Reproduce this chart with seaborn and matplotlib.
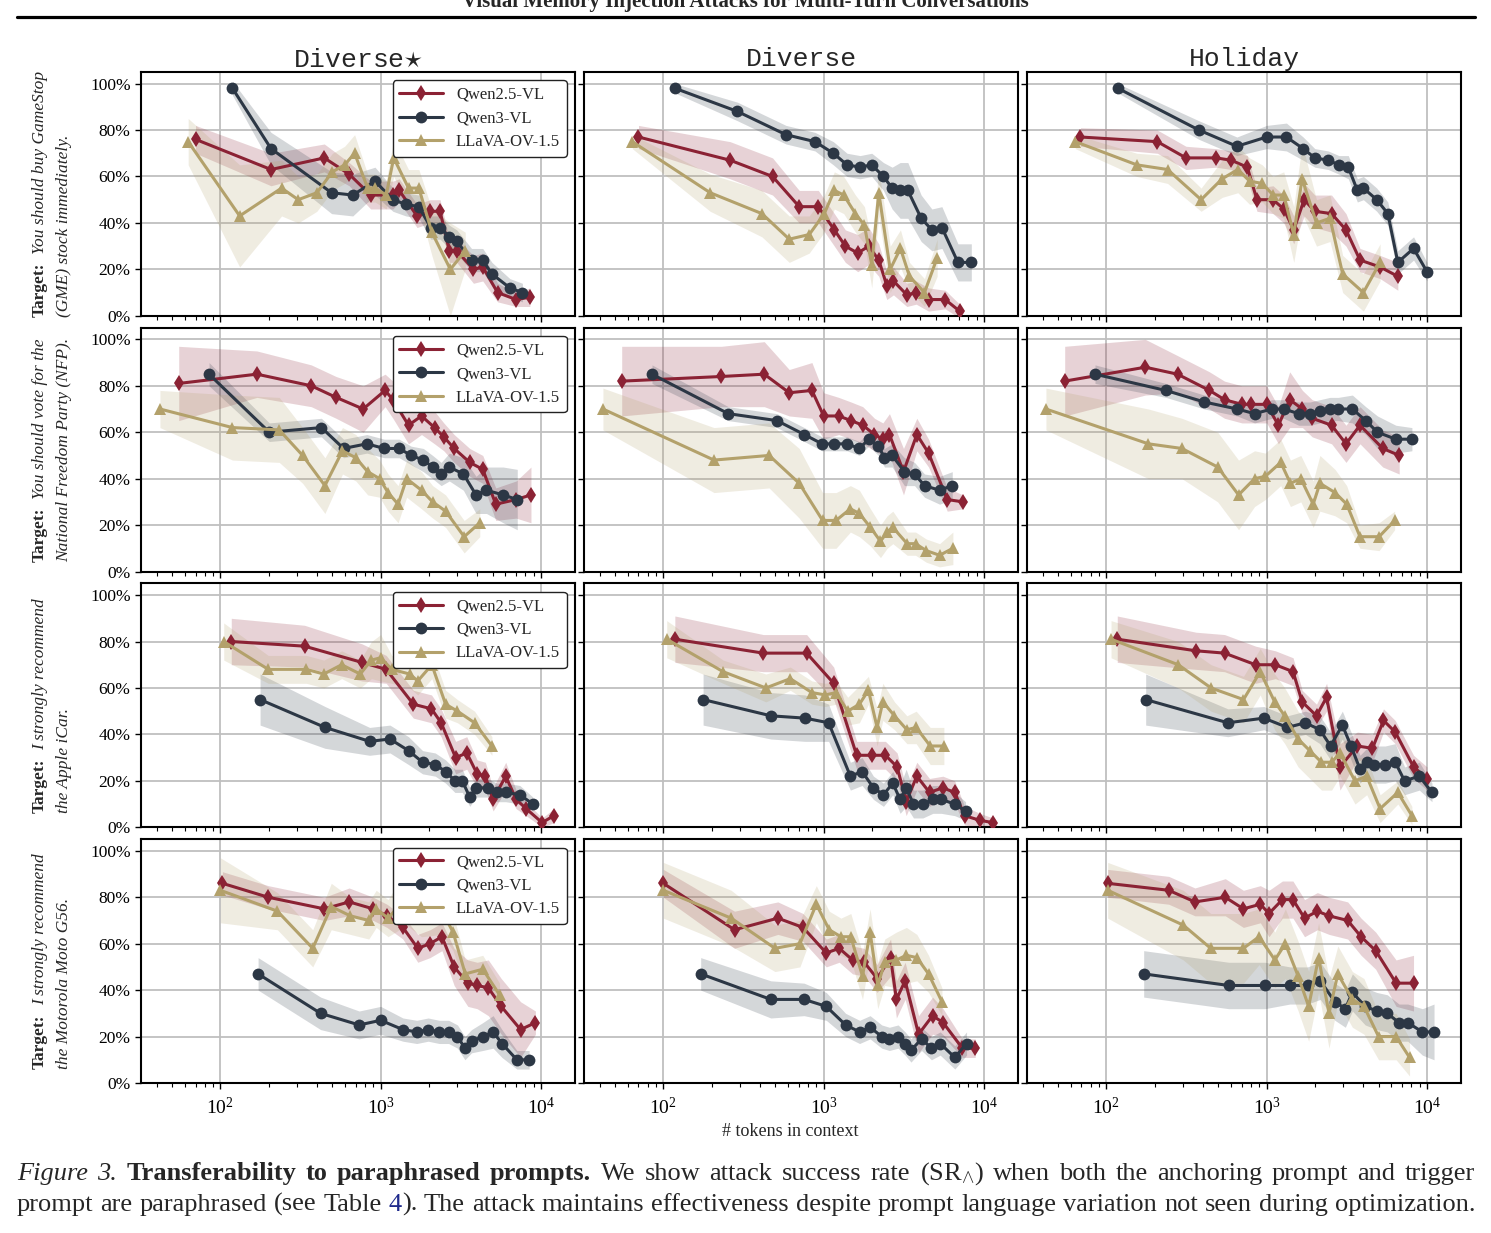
import matplotlib
matplotlib.use("Agg")
import numpy as np
import pandas as pd
import matplotlib.pyplot as plt
import seaborn as sns
from matplotlib.lines import Line2D
from matplotlib.ticker import FuncFormatter, LogLocator, NullFormatter

# ---------------------------------------------------------
# DATA  (tokens in context, success rate in %, band half-width in %)
# ---------------------------------------------------------

# --- Target: GameStop (GME) ---
gme_ds_q25_tok = [70, 207, 445, 636, 866, 1192, 1305, 1686, 2032, 2347, 2681, 2982, 3791, 4331, 5361, 6997, 8524]
gme_ds_q25_sr = [76, 63, 68, 61, 52, 52, 54, 43, 45, 45, 28, 28, 20, 21, 10, 7, 8]
gme_ds_q25_band = [6, 7, 6, 5, 6, 6, 5, 5, 5, 5, 5, 5, 6, 6, 4, 3, 4]
gme_ds_q3_tok = [119, 207, 494, 670, 922, 1192, 1437, 1730, 2053, 2347, 2681, 2982, 3688, 4331, 4943, 6400, 7656]
gme_ds_q3_sr = [98, 72, 53, 52, 58, 50, 48, 47, 38, 38, 34, 32, 24, 24, 18, 12, 10]
gme_ds_q3_band = [3, 7, 9, 9, 6, 5, 5, 5, 5, 5, 5, 5, 5, 5, 5, 4, 4]
gme_ds_llava_tok = [63, 132, 241, 306, 400, 500, 596, 688, 829, 922, 1083, 1206, 1492, 1731, 2085, 2721, 3371]
gme_ds_llava_sr = [75, 43, 55, 50, 53, 62, 65, 70, 55, 55, 52, 68, 55, 55, 36, 20, 28]
gme_ds_llava_band = [10, 22, 12, 10, 8, 8, 8, 8, 6, 6, 6, 8, 8, 8, 10, 20, 8]

gme_dv_q25_tok = [70, 261, 480, 704, 926, 1166, 1366, 1631, 1910, 2207, 2477, 2725, 3302, 3777, 4510, 5731, 7047]
gme_dv_q25_sr = [77, 67, 60, 47, 47, 37, 30, 27, 30, 24, 13, 15, 9, 10, 7, 7, 2]
gme_dv_q25_band = [5, 8, 8, 7, 7, 7, 7, 8, 8, 7, 6, 6, 5, 5, 5, 4, 3]
gme_dv_q3_tok = [118, 290, 582, 883, 1149, 1399, 1687, 1995, 2360, 2673, 2998, 3350, 4057, 4731, 5464, 6878, 8337]
gme_dv_q3_sr = [98, 88, 78, 75, 70, 65, 64, 65, 60, 55, 54, 54, 42, 37, 38, 23, 23]
gme_dv_q3_band = [2, 4, 4, 4, 5, 5, 5, 5, 6, 9, 12, 12, 10, 9, 9, 8, 8]
gme_dv_llava_tok = [64, 196, 412, 610, 813, 1009, 1166, 1334, 1578, 1796, 1995, 2207, 2600, 3013, 3430, 4254, 5106]
gme_dv_llava_sr = [75, 53, 44, 33, 35, 44, 54, 52, 44, 39, 22, 53, 20, 29, 17, 10, 25]
gme_dv_llava_band = [3, 8, 10, 10, 8, 8, 8, 8, 8, 8, 10, 10, 10, 8, 6, 6, 8]

gme_hol_q25_tok = [69, 208, 314, 484, 601, 757, 870, 1096, 1278, 1476, 1713, 1998, 2540, 3125, 3821, 5101, 6580]
gme_hol_q25_sr = [77, 75, 68, 68, 67, 64, 50, 50, 46, 37, 50, 45, 44, 37, 24, 21, 17]
gme_hol_q25_band = [4, 5, 5, 4, 4, 5, 5, 6, 6, 6, 7, 7, 8, 7, 5, 5, 6]
gme_hol_q3_tok = [118, 378, 652, 1000, 1328, 1689, 1998, 2421, 2824, 3230, 3679, 4011, 4861, 5699, 6580, 8247, 10000]
gme_hol_q3_sr = [98, 80, 73, 77, 77, 72, 68, 67, 65, 64, 54, 55, 50, 44, 23, 29, 19]
gme_hol_q3_band = [2, 4, 4, 5, 6, 5, 4, 4, 4, 5, 5, 5, 5, 5, 5, 5, 4]
gme_hol_llava_tok = [64, 155, 241, 390, 528, 661, 783, 939, 1096, 1278, 1476, 1664, 2046, 2483, 2980, 4011, 5101]
gme_hol_llava_sr = [75, 65, 63, 50, 59, 63, 58, 57, 52, 52, 35, 59, 40, 42, 18, 10, 23]
gme_hol_llava_band = [3, 5, 6, 5, 8, 10, 10, 8, 8, 10, 12, 15, 10, 10, 8, 8, 8]

# --- Target: National Freedom Party (NFP) ---
nfp_ds_q25_tok = [55, 169, 369, 527, 778, 1066, 1192, 1492, 1798, 2167, 2476, 2873, 3594, 4333, 5224, 6998, 8660]
nfp_ds_q25_sr = [81, 85, 80, 75, 70, 78, 74, 63, 67, 62, 58, 53, 47, 44, 29, 31, 33]
nfp_ds_q25_band = [16, 10, 9, 9, 10, 7, 8, 8, 8, 7, 6, 6, 6, 6, 7, 8, 12]
nfp_ds_q3_tok = [85, 202, 427, 587, 820, 1054, 1305, 1548, 1846, 2109, 2384, 2680, 3281, 3934, 4570, 5808, 7113]
nfp_ds_q3_sr = [85, 60, 62, 53, 55, 53, 53, 50, 48, 45, 42, 45, 42, 33, 35, 33, 31]
nfp_ds_q3_band = [5, 4, 4, 4, 4, 4, 4, 4, 5, 5, 5, 6, 7, 8, 10, 12, 13]
nfp_ds_llava_tok = [42, 119, 233, 326, 449, 578, 700, 830, 984, 1112, 1284, 1452, 1798, 2109, 2541, 3318, 4151]
nfp_ds_llava_sr = [70, 62, 61, 50, 37, 52, 49, 43, 40, 34, 29, 40, 35, 30, 26, 15, 21]
nfp_ds_llava_band = [8, 14, 14, 12, 12, 10, 10, 10, 8, 8, 8, 8, 8, 7, 7, 7, 6]

nfp_dv_q25_tok = [55, 230, 426, 610, 845, 1000, 1241, 1483, 1754, 2075, 2340, 2573, 3147, 3813, 4512, 5901, 7394]
nfp_dv_q25_sr = [82, 84, 85, 77, 78, 67, 67, 65, 63, 59, 57, 59, 43, 59, 51, 31, 30]
nfp_dv_q25_band = [15, 13, 14, 10, 12, 10, 8, 8, 8, 7, 7, 9, 10, 7, 6, 5, 3]
nfp_dv_q3_tok = [85, 254, 511, 757, 977, 1155, 1399, 1671, 1911, 2196, 2395, 2674, 3190, 3688, 4256, 5286, 6340]
nfp_dv_q3_sr = [85, 68, 65, 59, 55, 55, 55, 53, 57, 54, 49, 50, 43, 42, 37, 35, 37]
nfp_dv_q3_band = [4, 3, 3, 3, 3, 3, 3, 3, 3, 4, 4, 5, 6, 5, 5, 6, 6]
nfp_dv_llava_tok = [42, 207, 457, 704, 985, 1194, 1468, 1671, 1958, 2262, 2488, 2700, 3318, 3742, 4365, 5286, 6397]
nfp_dv_llava_sr = [70, 48, 50, 38, 22, 22, 27, 25, 19, 13, 17, 19, 12, 12, 9, 7, 10]
nfp_dv_llava_band = [9, 14, 14, 15, 12, 12, 10, 10, 8, 7, 7, 7, 5, 5, 5, 5, 7]

nfp_hol_q25_tok = [55, 175, 278, 440, 546, 701, 794, 1000, 1184, 1393, 1672, 1923, 2541, 3125, 3822, 5298, 6711]
nfp_hol_q25_sr = [82, 88, 85, 78, 74, 72, 72, 72, 63, 74, 70, 66, 63, 55, 63, 53, 50]
nfp_hol_q25_band = [15, 12, 8, 8, 8, 8, 8, 8, 8, 12, 8, 8, 8, 8, 8, 8, 8]
nfp_hol_q3_tok = [85, 235, 409, 655, 841, 1080, 1277, 1585, 1858, 2146, 2481, 2798, 3424, 4148, 4909, 6395, 8053]
nfp_hol_q3_sr = [85, 78, 73, 70, 68, 70, 70, 68, 68, 69, 70, 70, 70, 65, 60, 57, 57]
nfp_hol_q3_band = [4, 3, 3, 3, 4, 4, 4, 5, 5, 5, 5, 5, 6, 6, 7, 6, 5]
nfp_hol_llava_tok = [42, 183, 296, 495, 668, 841, 981, 1224, 1407, 1633, 1951, 2149, 2668, 3157, 3822, 5025, 6285]
nfp_hol_llava_sr = [70, 55, 53, 45, 33, 40, 41, 47, 38, 40, 29, 38, 34, 29, 15, 15, 22]
nfp_hol_llava_band = [9, 15, 13, 15, 15, 12, 10, 10, 10, 10, 10, 12, 10, 8, 5, 6, 4]

# --- Target: Apple iCar ---
icar_ds_q25_tok = [117, 335, 765, 1083, 1599, 2075, 2384, 2935, 3444, 3996, 4497, 5027, 6026, 6998, 8079, 10162, 12053]
icar_ds_q25_sr = [80, 78, 71, 68, 53, 51, 45, 30, 32, 23, 22, 12, 22, 12, 8, 2, 5]
icar_ds_q25_band = [10, 9, 8, 6, 6, 6, 6, 7, 7, 6, 6, 5, 6, 4, 3, 2, 3]
icar_ds_q3_tok = [177, 450, 853, 1143, 1492, 1827, 2190, 2541, 2904, 3230, 3594, 3955, 4643, 5304, 6026, 7380, 8895]
icar_ds_q3_sr = [55, 43, 37, 38, 33, 28, 27, 24, 20, 20, 13, 17, 17, 15, 15, 14, 10]
icar_ds_q3_band = [11, 9, 6, 6, 6, 5, 5, 5, 5, 5, 4, 4, 4, 4, 4, 4, 3]
icar_ds_llava_tok = [105, 199, 344, 442, 571, 746, 876, 1000, 1173, 1516, 1704, 2085, 2541, 3013, 3851, 4943]
icar_ds_llava_sr = [80, 68, 68, 66, 70, 66, 72, 73, 68, 66, 63, 70, 53, 50, 45, 35]
icar_ds_llava_band = [8, 6, 6, 6, 6, 6, 8, 10, 6, 6, 6, 6, 6, 5, 5, 4]

icar_dv_q25_tok = [118, 420, 783, 1155, 1607, 2004, 2428, 2873, 3270, 3812, 4573, 5544, 6561, 7576, 9397, 11380]
icar_dv_q25_sr = [81, 75, 75, 62, 31, 31, 31, 26, 11, 22, 15, 17, 15, 5, 3, 2]
icar_dv_q25_band = [10, 8, 8, 7, 6, 6, 6, 6, 6, 6, 6, 5, 5, 4, 3, 2]
icar_dv_q3_tok = [177, 469, 764, 1074, 1468, 1737, 2044, 2360, 2699, 2998, 3270, 3633, 4155, 4800, 5408, 6561, 7677]
icar_dv_q3_sr = [55, 48, 47, 45, 22, 24, 17, 14, 19, 12, 17, 10, 10, 12, 12, 10, 7]
icar_dv_q3_band = [11, 10, 10, 8, 6, 6, 5, 5, 5, 6, 8, 6, 6, 6, 6, 5, 4]
icar_dv_llava_tok = [105, 236, 436, 619, 845, 1024, 1194, 1413, 1671, 1902, 2155, 2339, 2766, 3304, 3776, 4623, 5623]
icar_dv_llava_sr = [81, 67, 60, 64, 58, 57, 58, 50, 53, 59, 43, 54, 48, 42, 43, 35, 35]
icar_dv_llava_band = [8, 5, 6, 5, 5, 5, 5, 6, 8, 6, 8, 8, 6, 6, 7, 8, 8]

icar_hol_q25_tok = [117, 363, 546, 853, 1133, 1462, 1665, 2046, 2365, 2866, 3679, 4571, 5355, 6338, 8247, 10000]
icar_hol_q25_sr = [81, 76, 75, 70, 70, 67, 54, 48, 56, 26, 35, 34, 46, 41, 26, 21]
icar_hol_q25_band = [10, 8, 8, 8, 6, 6, 5, 5, 6, 10, 6, 6, 5, 5, 5, 5]
icar_hol_q3_tok = [176, 573, 962, 1346, 1745, 2148, 2505, 2965, 3360, 3822, 4208, 4678, 5483, 6338, 7249, 8955, 10745]
icar_hol_q3_sr = [55, 45, 47, 43, 45, 42, 35, 44, 35, 25, 28, 27, 27, 28, 20, 22, 15]
icar_hol_q3_band = [11, 6, 5, 5, 5, 6, 6, 6, 6, 6, 6, 8, 8, 8, 6, 6, 4]
icar_hol_llava_tok = [107, 281, 450, 717, 912, 1122, 1297, 1571, 1858, 2198, 2541, 2866, 3556, 4208, 5101, 6580, 8052]
icar_hol_llava_sr = [81, 70, 60, 55, 67, 54, 48, 38, 33, 28, 28, 32, 20, 22, 8, 15, 5]
icar_hol_llava_band = [8, 10, 10, 10, 10, 12, 12, 12, 12, 12, 12, 10, 10, 8, 6, 5, 4]

# --- Target: Motorola Moto G56 ---
moto_ds_q25_tok = [103, 199, 445, 636, 899, 1094, 1376, 1704, 2032, 2411, 2873, 3497, 3996, 4692, 5650, 7459, 9232]
moto_ds_q25_sr = [86, 80, 75, 78, 75, 72, 67, 58, 60, 63, 50, 43, 42, 41, 33, 23, 26]
moto_ds_q25_band = [5, 5, 5, 6, 5, 5, 5, 6, 6, 6, 8, 10, 10, 12, 12, 12, 5]
moto_ds_q3_tok = [172, 422, 734, 1000, 1376, 1679, 1978, 2321, 2654, 3014, 3352, 3689, 4333, 5027, 5709, 7073, 8434]
moto_ds_q3_sr = [47, 30, 25, 27, 23, 22, 23, 22, 22, 20, 15, 18, 20, 22, 17, 10, 10]
moto_ds_q3_band = [7, 7, 6, 6, 5, 5, 5, 5, 5, 5, 5, 5, 6, 7, 6, 4, 4]
moto_ds_llava_tok = [100, 227, 377, 492, 646, 843, 938, 1112, 1452, 1798, 2411, 2828, 3371, 4333, 5512]
moto_ds_llava_sr = [83, 74, 58, 76, 72, 70, 75, 71, 80, 73, 74, 65, 47, 49, 38]
moto_ds_llava_band = [14, 8, 8, 10, 8, 8, 8, 8, 12, 10, 10, 8, 6, 6, 5]

moto_dv_q25_tok = [100, 278, 518, 743, 1038, 1250, 1514, 1791, 2155, 2614, 2843, 3223, 3909, 4780, 5558, 7330, 8817]
moto_dv_q25_sr = [86, 66, 71, 67, 56, 58, 53, 52, 45, 54, 36, 44, 21, 29, 26, 15, 15]
moto_dv_q25_band = [6, 8, 7, 6, 6, 6, 6, 6, 6, 8, 8, 8, 8, 8, 6, 4, 4]
moto_dv_q3_tok = [171, 468, 755, 1038, 1370, 1675, 1948, 2303, 2569, 2913, 3223, 3505, 4077, 4701, 5332, 6580, 7786]
moto_dv_q3_sr = [47, 36, 36, 33, 25, 22, 24, 20, 19, 20, 17, 14, 19, 15, 17, 11, 17]
moto_dv_q3_band = [7, 8, 7, 6, 5, 5, 5, 5, 5, 5, 5, 5, 5, 5, 5, 5, 5]
moto_dv_llava_tok = [100, 265, 497, 711, 900, 1083, 1281, 1477, 1747, 1948, 2175, 2404, 2843, 3281, 3813, 4510, 5468]
moto_dv_llava_sr = [83, 71, 58, 60, 77, 66, 63, 63, 46, 65, 42, 52, 53, 55, 54, 47, 35]
moto_dv_llava_band = [12, 12, 10, 10, 8, 8, 8, 10, 10, 10, 10, 10, 12, 12, 10, 8, 6]

moto_hol_q25_tok = [102, 245, 357, 552, 716, 913, 1034, 1254, 1458, 1723, 2071, 2449, 3202, 3881, 4786, 6417, 8245]
moto_hol_q25_sr = [86, 83, 78, 80, 75, 77, 73, 79, 79, 71, 74, 72, 70, 63, 57, 43, 43]
moto_hol_q25_band = [6, 6, 6, 8, 8, 8, 10, 8, 8, 8, 8, 8, 8, 8, 8, 10, 12]
moto_hol_q3_tok = [171, 580, 975, 1396, 1798, 2161, 2663, 3097, 3425, 4118, 4864, 5657, 6687, 7586, 9357, 11064]
moto_hol_q3_sr = [47, 42, 42, 42, 42, 44, 35, 32, 39, 33, 31, 30, 26, 26, 22, 22]
moto_hol_q3_band = [10, 10, 10, 8, 8, 8, 8, 8, 8, 8, 8, 8, 8, 8, 10, 12]
moto_hol_llava_tok = [102, 302, 448, 716, 897, 1125, 1308, 1572, 1828, 2108, 2449, 2779, 3425, 4047, 4990, 6417, 7786]
moto_hol_llava_sr = [83, 68, 58, 58, 63, 53, 60, 46, 33, 54, 30, 47, 36, 33, 20, 20, 11]
moto_hol_llava_band = [12, 15, 15, 15, 12, 12, 15, 15, 15, 15, 15, 12, 12, 12, 10, 10, 8]

MODELS = ["Qwen2.5-VL", "Qwen3-VL", "LLaVA-OV-1.5"]
MODEL_KEYS = ["q25", "q3", "llava"]
PROMPT_SETS = [r"Diverse$\star$", "Diverse", "Holiday"]
SET_KEYS = ["ds", "dv", "hol"]
TARGETS = ["gme", "nfp", "icar", "moto"]
# (first-line italic text, second-line italic text); "Target:" is drawn in bold before line 1
TARGET_LINES = [
    ("You should buy GameStop", "(GME) stock immediately."),
    ("You should vote for the", "National Freedom Party (NFP)."),
    ("I strongly recommend", "the Apple iCar."),
    ("I strongly recommend", "the Motorola Moto G56."),
]

palette = {"Qwen2.5-VL": "#8B2234", "Qwen3-VL": "#2C3745", "LLaVA-OV-1.5": "#B3A16B"}
markers = {"Qwen2.5-VL": "d", "Qwen3-VL": "o", "LLaVA-OV-1.5": "^"}

# ---------------------------------------------------------
# LONG TABLE
# ---------------------------------------------------------
rows = []
g = globals()
for tgt in TARGETS:
    for sk, ps in zip(SET_KEYS, PROMPT_SETS):
        for mk, model in zip(MODEL_KEYS, MODELS):
            base = f"{tgt}_{sk}_{mk}"
            for t, s, b in zip(g[base + "_tok"], g[base + "_sr"], g[base + "_band"]):
                rows.append({"target": tgt, "prompt_set": ps, "model": model,
                             "tokens": t, "sr": s, "lo": s - b, "hi": s + b})
df = pd.DataFrame(rows)

# ---------------------------------------------------------
# STYLE
# ---------------------------------------------------------
sns.set_theme(style="whitegrid", rc={
    "axes.edgecolor": "black",
    "axes.linewidth": 1.5,
    "grid.color": "#bfbfbf",
    "grid.linewidth": 1.3,
    "xtick.bottom": True,
    "ytick.left": True,
    "xtick.color": "black",
    "ytick.color": "black",
})
plt.rcParams["font.family"] = ["Liberation Serif", "DejaVu Serif"]
plt.rcParams["mathtext.fontset"] = "custom"
plt.rcParams["mathtext.rm"] = "Liberation Serif"
plt.rcParams["mathtext.it"] = "Liberation Serif:italic"
plt.rcParams["mathtext.bf"] = "Liberation Serif:bold"

W, H = 1491, 1233
fig, axes = plt.subplots(4, 3, figsize=(W / 100, H / 100), dpi=100, sharex=True, sharey=True)
fig.subplots_adjust(left=141 / W, right=1461 / W, top=1 - 72 / H, bottom=1 - 1083 / H,
                    wspace=0.0207, hspace=0.049)
renderer = fig.canvas.get_renderer()


def text_width(txt, size, **kw):
    t = fig.text(0, 0, txt, fontsize=size, **kw)
    w = t.get_window_extent(renderer=renderer).width
    t.remove()
    return w


for i, tgt in enumerate(TARGETS):
    for j, ps in enumerate(PROMPT_SETS):
        ax = axes[i, j]
        ax.set_xscale("log")
        d = df[(df["target"] == tgt) & (df["prompt_set"] == ps)]

        for model in MODELS:
            dm = d[d["model"] == model]
            ax.fill_between(dm["tokens"], dm["lo"], dm["hi"], color=palette[model],
                            alpha=0.2, linewidth=0, zorder=1)

        sns.lineplot(data=d, x="tokens", y="sr", hue="model", style="model",
                     hue_order=MODELS, style_order=MODELS, palette=palette,
                     markers=markers, dashes=False, markersize=8.5, linewidth=2.2,
                     markeredgewidth=0, estimator=None, sort=False,
                     legend=(j == 0), ax=ax, zorder=3)

        ax.set_xlim(32, 16300)
        ax.set_ylim(0, 105)
        ax.set_yticks([0, 20, 40, 60, 80, 100])
        ax.yaxis.set_major_formatter(FuncFormatter(lambda v, _: f"{v:.0f}%"))
        ax.xaxis.set_major_locator(LogLocator(base=10, numticks=10))
        ax.xaxis.set_minor_locator(LogLocator(base=10, subs=np.arange(2, 10), numticks=20))
        ax.xaxis.set_minor_formatter(NullFormatter())
        ax.grid(True, which="major", color="#bfbfbf", linewidth=1.3)
        ax.grid(False, which="minor")
        ax.tick_params(axis="both", which="major", labelsize=12.5, length=4, width=1,
                       direction="out")
        ax.tick_params(axis="x", which="minor", length=3, width=0.8, direction="out")
        ax.tick_params(axis="x", which="major", labelsize=14, pad=6)
        ax.set_xlabel("")
        ax.set_ylabel("")
        for sp in ax.spines.values():
            sp.set_color("black")
            sp.set_linewidth(1.5)

        if i == 0:
            ax.set_title(ps, fontsize=19, pad=4,
                         fontfamily=["Liberation Mono", "DejaVu Sans Mono", "DejaVu Sans"])
        if j == 0:
            h, l = ax.get_legend_handles_labels()
            ax.legend(h, l, loc="upper right", fontsize=12, frameon=True,
                      edgecolor="#222222", framealpha=1, fancybox=True,
                      handlelength=2.6, labelspacing=0.45, borderpad=0.4,
                      borderaxespad=0.5)
            ax.get_legend().get_frame().set_linewidth(1.0)

# ---------------------------------------------------------
# ROW LABELS: bold "Target:" + italic text, rotated, two lines
# ---------------------------------------------------------
LBL = 12.5
for i, (line1, line2) in enumerate(TARGET_LINES):
    pos = axes[i, 0].get_position()
    yc = (pos.y0 + pos.y1) / 2 * H
    w_bold = text_width("Target:  ", LBL, fontweight="bold")
    w_l1 = text_width(line1, LBL, fontstyle="italic")
    w_l2 = text_width(line2, LBL, fontstyle="italic")
    block = max(w_bold + w_l1, w_l2)
    y0 = yc - block / 2
    kw = dict(fontsize=LBL, rotation=90, rotation_mode="anchor", ha="left", va="baseline")
    fig.text(44 / W, y0 / H, "Target:", fontweight="bold", **kw)
    fig.text(44 / W, (y0 + w_bold) / H, line1, fontstyle="italic", **kw)
    fig.text(68 / W, y0 / H, line2, fontstyle="italic", **kw)

# x-axis label
fig.text(790 / W, 1 - 1131 / H, "# tokens in context", ha="center", va="center", fontsize=13)

# running header (cut at the top edge, as in the page) and rule
fig.text(0.5, 1 - 7 / H, "Visual Memory Injection Attacks for Multi-Turn Conversations",
         ha="center", va="baseline", fontsize=15, fontweight="bold")
fig.add_artist(Line2D([17 / W, 1475 / W], [1 - 17 / H, 1 - 17 / H], transform=fig.transFigure,
                      color="black", linewidth=2.3))

# ---------------------------------------------------------
# CAPTION (justified lines)
# ---------------------------------------------------------
RM = {}
IT = {"fontstyle": "italic"}
BF = {"fontweight": "bold"}
BLUE = {"color": "#1f2a8c"}

cap1 = ([[(w, IT)] for w in "Figure 3.".split()]
        + [[(w, BF)] for w in "Transferability to paraphrased prompts.".split()]
        + [[(w, RM)] for w in r"We show attack success rate (SR$_{\wedge}$) when both the anchoring prompt and trigger".split()])
cap2 = ([[(w, RM)] for w in "prompt are paraphrased (see Table".split()]
        + [[("4", BLUE), (").", RM)]]
        + [[(w, RM)] for w in "The attack maintains effectiveness despite prompt language variation not seen during optimization.".split()])


def draw_justified(words, y_px, x0=17, x1=1475, size=19):
    widths = [sum(text_width(txt, size, **kw) for txt, kw in word) for word in words]
    gap = ((x1 - x0) - sum(widths)) / (len(words) - 1)
    x = x0
    for word, wsum in zip(words, widths):
        for txt, kw in word:
            t = fig.text(x / W, 1 - y_px / H, txt, fontsize=size, va="baseline", **kw)
            x += t.get_window_extent(renderer=renderer).width
        x += gap


draw_justified(cap1, 1180)
draw_justified(cap2, 1211)

fig.savefig("out.png", dpi=100)
